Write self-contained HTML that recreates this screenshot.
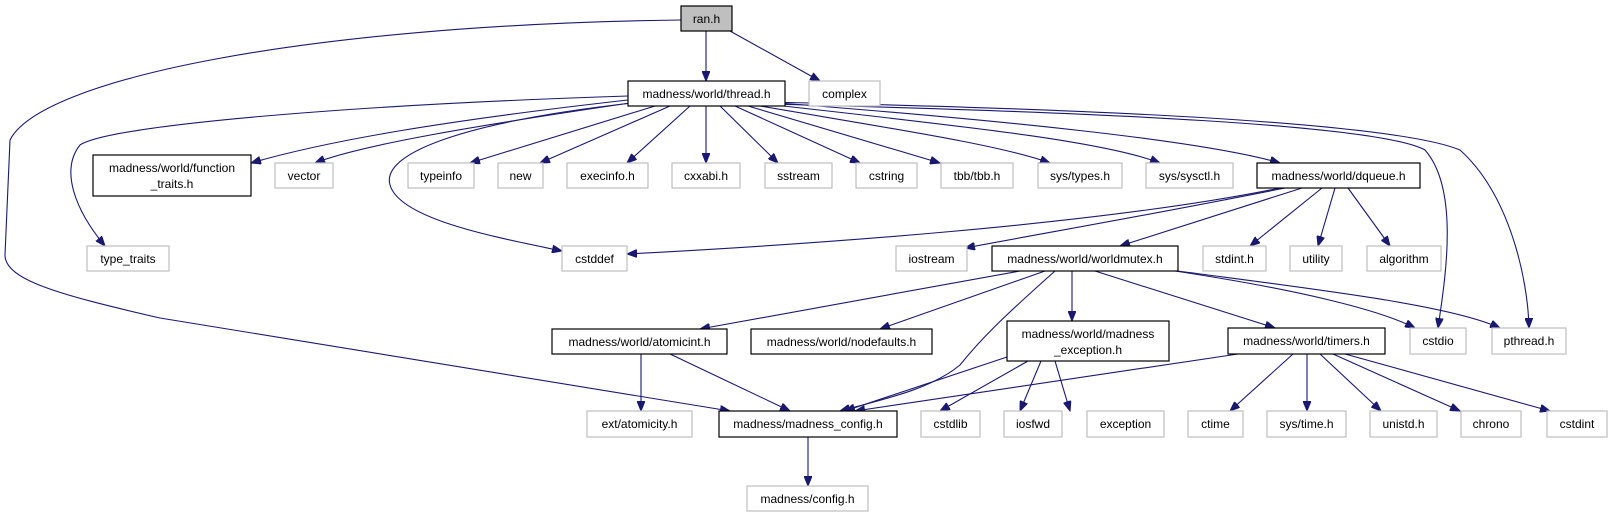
<!DOCTYPE html>
<html><head><meta charset="utf-8"><style>
html,body{margin:0;padding:0;background:#fff;}
svg{display:block;}
text{font-family:"Liberation Sans",Arial,sans-serif;font-size:12px;fill:#000;}
.g{fill:#fff;stroke:#bfbfbf;stroke-width:1.2;}
.b{fill:#fff;stroke:#000;stroke-width:1.2;}
.e{fill:none;stroke:#191970;stroke-width:1.1;}
</style></head><body>
<svg width="1612" height="517" viewBox="0 0 1612 517" xmlns="http://www.w3.org/2000/svg">
<defs><marker id="a" markerWidth="11" markerHeight="8" refX="10" refY="4" orient="auto" markerUnits="userSpaceOnUse"><path d="M0,0 L10,4 L0,8 z" fill="#191970" stroke="#191970"/></marker></defs>
<g marker-end="url(#a)">
<path class="e" d="M706,31 L706,81"/>
<path class="e" d="M730,31 L820,81"/>
<path class="e" d="M681,20 C300,25 40,80 10,140 L5,255 C5,280 60,295 160,318 L730,411"/>
<path class="e" d="M628,100 C450,120 330,140 251,163"/>
<path class="e" d="M628,96 C350,105 110,125 80,145 C60,170 75,210 105,246"/>
<path class="e" d="M630,103 C480,125 360,145 315,163"/>
<path class="e" d="M632,103 C480,120 380,150 390,185 C400,220 500,238 562,251"/>
<path class="e" d="M655,106 L470,163"/>
<path class="e" d="M670,106 L540,163"/>
<path class="e" d="M690,106 L627,163"/>
<path class="e" d="M706,106 L706,163"/>
<path class="e" d="M720,106 L778,163"/>
<path class="e" d="M735,106 L860,163"/>
<path class="e" d="M748,106 L940,163"/>
<path class="e" d="M760,106 C900,130 1000,145 1050,163"/>
<path class="e" d="M766,104 C950,125 1100,140 1160,163"/>
<path class="e" d="M766,102 C1000,120 1200,140 1280,163"/>
<path class="e" d="M766,104 C1100,112 1380,125 1425,150 C1460,190 1445,280 1438,328"/>
<path class="e" d="M766,102 C1150,110 1400,125 1460,150 C1510,195 1528,280 1529,328"/>
<path class="e" d="M1280,188 C1100,225 800,245 627,254"/>
<path class="e" d="M1285,188 C1150,215 1050,232 965,248"/>
<path class="e" d="M1302,188 L1120,246"/>
<path class="e" d="M1322,188 L1250,246"/>
<path class="e" d="M1335,188 L1318,246"/>
<path class="e" d="M1348,188 L1390,246"/>
<path class="e" d="M1020,271 L700,329"/>
<path class="e" d="M1045,271 L880,329"/>
<path class="e" d="M1055,271 C1000,320 980,340 960,365 C930,390 880,400 840,411"/>
<path class="e" d="M1072,271 L1072,321"/>
<path class="e" d="M1095,271 L1275,328"/>
<path class="e" d="M1175,271 C1300,290 1380,310 1415,328"/>
<path class="e" d="M1178,271 C1320,290 1450,305 1500,328"/>
<path class="e" d="M641,354 L641,411"/>
<path class="e" d="M670,354 L790,411"/>
<path class="e" d="M1007,357 L845,411"/>
<path class="e" d="M1028,361 L940,411"/>
<path class="e" d="M1041,361 L1020,411"/>
<path class="e" d="M1055,361 L1070,411"/>
<path class="e" d="M1238,354 L855,411"/>
<path class="e" d="M1293,354 L1230,411"/>
<path class="e" d="M1307,354 L1307,411"/>
<path class="e" d="M1320,354 L1381,411"/>
<path class="e" d="M1333,354 L1460,411"/>
<path class="e" d="M1345,354 L1550,411"/>
<path class="e" d="M808,437 L808,486"/>
</g>
<g>
<rect x="681" y="6" width="51" height="25" fill="#bfbfbf" stroke="#000" stroke-width="1.2"/><text x="706.5" y="23" text-anchor="middle">ran.h</text>
<rect class="b" x="628" y="81" width="157" height="25"/><text x="706.5" y="98" text-anchor="middle">madness/world/thread.h</text>
<rect class="g" x="809" y="81" width="71" height="25"/><text x="844.5" y="98" text-anchor="middle">complex</text>
<rect class="b" x="93" y="155" width="158" height="41"/><text x="172" y="172" text-anchor="middle">madness/world/function</text><text x="172" y="188" text-anchor="middle">_traits.h</text>
<rect class="g" x="275" y="163" width="58" height="25"/><text x="304" y="180" text-anchor="middle">vector</text>
<rect class="g" x="408" y="163" width="66" height="25"/><text x="441" y="180" text-anchor="middle">typeinfo</text>
<rect class="g" x="498" y="163" width="45" height="25"/><text x="520.5" y="180" text-anchor="middle">new</text>
<rect class="g" x="567" y="163" width="81" height="25"/><text x="607.5" y="180" text-anchor="middle">execinfo.h</text>
<rect class="g" x="672" y="163" width="68" height="25"/><text x="706" y="180" text-anchor="middle">cxxabi.h</text>
<rect class="g" x="765" y="163" width="67" height="25"/><text x="798.5" y="180" text-anchor="middle">sstream</text>
<rect class="g" x="856" y="163" width="61" height="25"/><text x="886.5" y="180" text-anchor="middle">cstring</text>
<rect class="g" x="941" y="163" width="72" height="25"/><text x="977" y="180" text-anchor="middle">tbb/tbb.h</text>
<rect class="g" x="1038" y="163" width="84" height="25"/><text x="1080" y="180" text-anchor="middle">sys/types.h</text>
<rect class="g" x="1146" y="163" width="87" height="25"/><text x="1189.5" y="180" text-anchor="middle">sys/sysctl.h</text>
<rect class="b" x="1257" y="163" width="163" height="25"/><text x="1338.5" y="180" text-anchor="middle">madness/world/dqueue.h</text>
<rect class="g" x="87" y="246" width="82" height="25"/><text x="128" y="263" text-anchor="middle">type_traits</text>
<rect class="g" x="562" y="246" width="65" height="25"/><text x="594.5" y="263" text-anchor="middle">cstddef</text>
<rect class="g" x="896" y="246" width="71" height="25"/><text x="931.5" y="263" text-anchor="middle">iostream</text>
<rect class="b" x="992" y="246" width="186" height="25"/><text x="1085" y="263" text-anchor="middle">madness/world/worldmutex.h</text>
<rect class="g" x="1203" y="246" width="63" height="25"/><text x="1234.5" y="263" text-anchor="middle">stdint.h</text>
<rect class="g" x="1290" y="246" width="52" height="25"/><text x="1316" y="263" text-anchor="middle">utility</text>
<rect class="g" x="1367" y="246" width="74" height="25"/><text x="1404" y="263" text-anchor="middle">algorithm</text>
<rect class="b" x="552" y="329" width="175" height="25"/><text x="639.5" y="346" text-anchor="middle">madness/world/atomicint.h</text>
<rect class="b" x="751" y="329" width="181" height="25"/><text x="841.5" y="346" text-anchor="middle">madness/world/nodefaults.h</text>
<rect class="b" x="1007" y="321" width="162" height="40"/><text x="1088" y="338" text-anchor="middle">madness/world/madness</text><text x="1088" y="354" text-anchor="middle">_exception.h</text>
<rect class="b" x="1228" y="328" width="157" height="26"/><text x="1306.5" y="345" text-anchor="middle">madness/world/timers.h</text>
<rect class="g" x="1410" y="328" width="56" height="26"/><text x="1438" y="345" text-anchor="middle">cstdio</text>
<rect class="g" x="1492" y="328" width="74" height="26"/><text x="1529" y="345" text-anchor="middle">pthread.h</text>
<rect class="g" x="587" y="411" width="105" height="26"/><text x="639.5" y="428" text-anchor="middle">ext/atomicity.h</text>
<rect class="b" x="719" y="411" width="178" height="26"/><text x="808" y="428" text-anchor="middle">madness/madness_config.h</text>
<rect class="g" x="921" y="411" width="59" height="26"/><text x="950.5" y="428" text-anchor="middle">cstdlib</text>
<rect class="g" x="1004" y="411" width="58" height="26"/><text x="1033" y="428" text-anchor="middle">iosfwd</text>
<rect class="g" x="1087" y="411" width="77" height="26"/><text x="1125.5" y="428" text-anchor="middle">exception</text>
<rect class="g" x="1188" y="411" width="55" height="26"/><text x="1215.5" y="428" text-anchor="middle">ctime</text>
<rect class="g" x="1267" y="411" width="79" height="26"/><text x="1306.5" y="428" text-anchor="middle">sys/time.h</text>
<rect class="g" x="1370" y="411" width="67" height="26"/><text x="1403.5" y="428" text-anchor="middle">unistd.h</text>
<rect class="g" x="1461" y="411" width="60" height="26"/><text x="1491" y="428" text-anchor="middle">chrono</text>
<rect class="g" x="1547" y="411" width="60" height="26"/><text x="1577" y="428" text-anchor="middle">cstdint</text>
<rect class="g" x="747" y="486" width="121" height="25"/><text x="807.5" y="503" text-anchor="middle">madness/config.h</text>
</g>
</svg>
</body></html>
